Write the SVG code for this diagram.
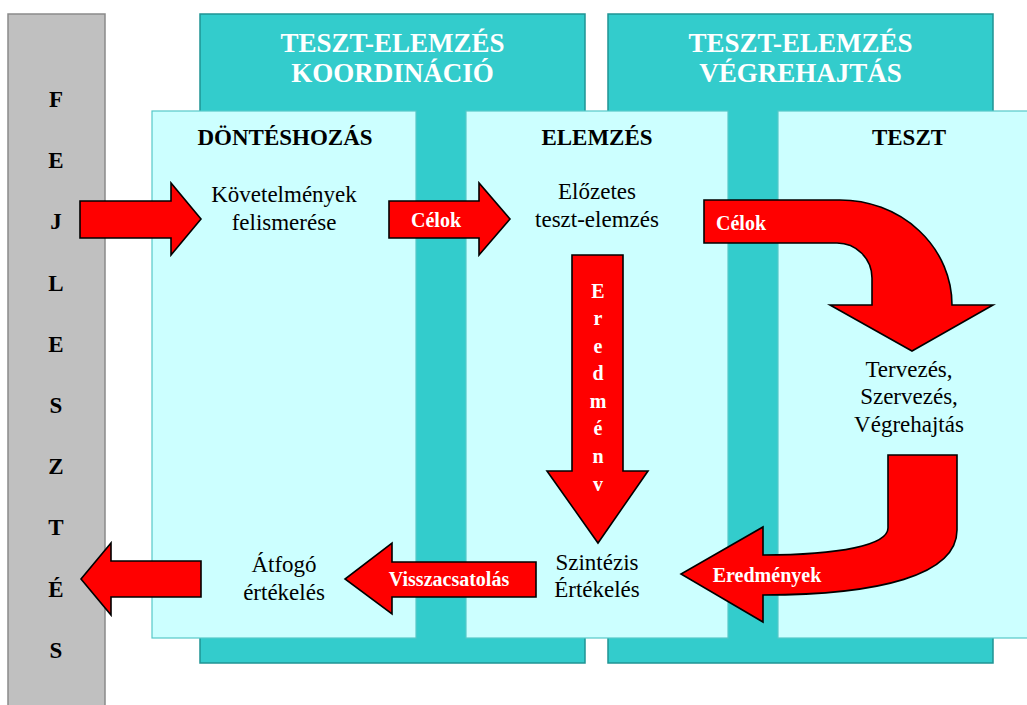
<svg xmlns="http://www.w3.org/2000/svg" width="1027" height="705" viewBox="0 0 1027 705">
  <style>
    .side { fill: #C0C0C0; stroke: #8A8A8A; stroke-width: 1.5; }
    .band { fill: #33CCCC; stroke: #1F9494; stroke-width: 1.5; }
    .panel { fill: #CCFFFF; stroke: #55C8C8; stroke-width: 1.2; }
    .arrow { fill: #FF0000; stroke: #000000; stroke-width: 1.6; stroke-linejoin: miter; }
    text { font-family: "Liberation Serif", "Times New Roman", serif; text-anchor: middle; }
    .hdr { font-size: 27px; font-weight: bold; fill: #FFFFFF; }
    .ttl { font-size: 23px; font-weight: bold; fill: #000000; }
    .body { font-size: 23px; fill: #000000; }
    .lbl { font-size: 20px; font-weight: bold; fill: #FFFFFF; }
    .vert { font-size: 23px; font-weight: bold; fill: #000000; }
  </style>

  <!-- left column: FEJLESZTÉS -->
  <g id="fejlesztes">
    <rect class="side" x="8" y="14" width="97" height="700"/>
    <text class="vert" x="56" y="107">F</text>
    <text class="vert" x="56" y="168">E</text>
    <text class="vert" x="56" y="229">J</text>
    <text class="vert" x="56" y="291">L</text>
    <text class="vert" x="56" y="352">E</text>
    <text class="vert" x="56" y="413">S</text>
    <text class="vert" x="56" y="474">Z</text>
    <text class="vert" x="56" y="535">T</text>
    <text class="vert" x="56" y="597">É</text>
    <text class="vert" x="56" y="658">S</text>
  </g>

  <!-- coordination band -->
  <g id="koordinacio">
    <rect class="band" x="200" y="14" width="385" height="649"/>
    <text class="hdr" x="392.5" y="52">TESZT-ELEMZÉS</text>
    <text class="hdr" x="392.5" y="82">KOORDINÁCIÓ</text>
  </g>

  <!-- execution band -->
  <g id="vegrehajtas">
    <rect class="band" x="608" y="14" width="385" height="649"/>
    <text class="hdr" x="800.5" y="52">TESZT-ELEMZÉS</text>
    <text class="hdr" x="800.5" y="82">VÉGREHAJTÁS</text>
  </g>

  <!-- decision panel -->
  <g id="donteshozas">
    <rect class="panel" x="152" y="111" width="264" height="527"/>
    <text class="ttl" x="285" y="145">DÖNTÉSHOZÁS</text>
    <text class="body" x="284" y="202">Követelmények</text>
    <text class="body" x="284" y="230">felismerése</text>
    <text class="body" x="284" y="572">Átfogó</text>
    <text class="body" x="284" y="600">értékelés</text>
  </g>

  <!-- analysis panel -->
  <g id="elemzes">
    <rect class="panel" x="466" y="111" width="262" height="527"/>
    <text class="ttl" x="597" y="145">ELEMZÉS</text>
    <text class="body" x="597" y="199">Előzetes</text>
    <text class="body" x="597" y="227">teszt-elemzés</text>
    <text class="body" x="597" y="570">Szintézis</text>
    <text class="body" x="597" y="597">Értékelés</text>
  </g>

  <!-- test panel -->
  <g id="teszt">
    <rect class="panel" x="778" y="111" width="262" height="527"/>
    <text class="ttl" x="909" y="145">TESZT</text>
    <text class="body" x="909" y="377">Tervezés,</text>
    <text class="body" x="909" y="404">Szervezés,</text>
    <text class="body" x="909" y="432">Végrehajtás</text>
  </g>

  <!-- flow arrows -->
  <g id="connectors">
    <!-- into requirements -->
    <path class="arrow" d="M80 201 L171 201 L171 183 L201 219 L171 255 L171 238 L80 238 Z"/>

    <!-- Célok: decision to analysis -->
    <path class="arrow" d="M389 201 L479 201 L479 183 L510 219 L479 255 L479 238 L389 238 Z"/>
    <text class="lbl" x="436" y="227">Célok</text>

    <!-- Célok: analysis to test, bending down -->
    <path class="arrow" d="M704 200 L840 200 A112 105 0 0 1 952 305 L993 305 L912 351 L830 305 L872 305 L872 278 A35 35 0 0 0 837 243 L704 243 Z"/>
    <text class="lbl" x="741" y="230">Célok</text>

    <!-- Eredmény: down to synthesis -->
    <path class="arrow" d="M572 255 L623 255 L623 471 L648 471 L598 543 L547 471 L572 471 Z"/>
    <g class="lbl">
      <text x="598" y="298">E</text>
      <text x="598" y="325">r</text>
      <text x="598" y="353">e</text>
      <text x="598" y="380">d</text>
      <text x="598" y="408">m</text>
      <text x="598" y="435">é</text>
      <text x="598" y="463">n</text>
      <text x="598" y="491">v</text>
    </g>

    <!-- Eredmények: test back to synthesis -->
    <path class="arrow" d="M888 455 L957 455 L957 530 C957 575 880 595 763 595 L763 622 L681 574 L763 527 L763 555 C840 555 888 545 888 528 Z"/>
    <text class="lbl" x="767" y="582">Eredmények</text>

    <!-- Visszacsatolás: synthesis to overall evaluation -->
    <path class="arrow" d="M536 562 L392 562 L392 543 L345 579 L392 614 L392 597 L536 597 Z"/>
    <text class="lbl" x="449" y="586">Visszacsatolás</text>

    <!-- back to development -->
    <path class="arrow" d="M201 561 L111 561 L111 543 L81 579 L111 615 L111 597 L201 597 Z"/>
  </g>
</svg>
